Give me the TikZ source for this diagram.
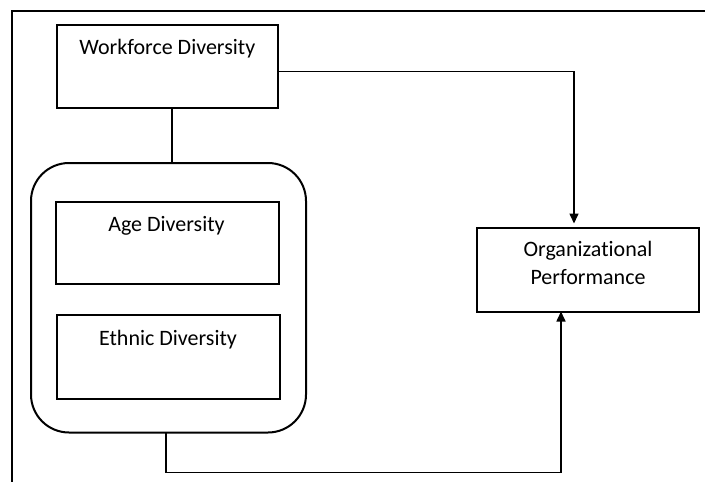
\documentclass[tikz,border=0pt]{standalone}
\usepackage{fontspec}
\setmainfont{Carlito}[Ligatures={NoCommon,NoDiscretionary}]
\usetikzlibrary{arrows.meta}
\begin{document}
\begin{tikzpicture}[x=1pt,y=-1pt,
  box/.style={draw=black,line width=2pt,inner sep=0pt,outer sep=0pt,fill=white},
  txt/.style={anchor=base,inner sep=0pt,outer sep=0pt,font=\fontsize{22}{28}\selectfont},
  conn/.style={draw=black,line width=1.6pt},
  tip/.style={-{Triangle[length=10pt,width=9pt]}}]
\useasboundingbox (0,0) rectangle (705,482);
\fill[white] (0,0) rectangle (705,482);
% frame (cropped: left and top edges only)
\draw[line width=2pt] (12,482) -- (12,10.5) -- (705,10.5);
% boxes
\node[box,minimum width=221.3pt,minimum height=83.3pt] (wd) at (167.35,66.35) {};
\node[box,rounded corners=38pt,minimum width=275pt,minimum height=269.5pt] (cont) at (168.5,297.75) {};
\node[box,minimum width=222.5pt,minimum height=82.6pt] (age) at (167.25,243) {};
\node[box,minimum width=223.5pt,minimum height=83.7pt] (eth) at (168.25,356.85) {};
\node[box,minimum width=222pt,minimum height=84pt] (org) at (588,269.5) {};
% texts
\node[txt] (wdt) at (167.3,54) {Workforce Diversity};
\node[txt] (aget) at (166.5,231.7) {Age Diversity};
\node[txt] (etht) at (168,345) {Ethnic Diversity};
\node[txt] (orgt1) at (588,256) {Organizational};
\node[txt] (orgt2) at (588,284.3) {Performance};
% connectors
\draw[conn] ([xshift=4.5pt]wd.south) -- ([xshift=4.5pt]wd.south |- cont.north);
\draw[conn,tip,shorten >=4pt] ([yshift=-5pt]wd.east) -| ([xshift=-14pt]org.north);
\draw[conn,tip] ([xshift=-2.5pt]cont.south) -- ++(0,40) -| ([xshift=-27pt]org.south);
\end{tikzpicture}
\end{document}
